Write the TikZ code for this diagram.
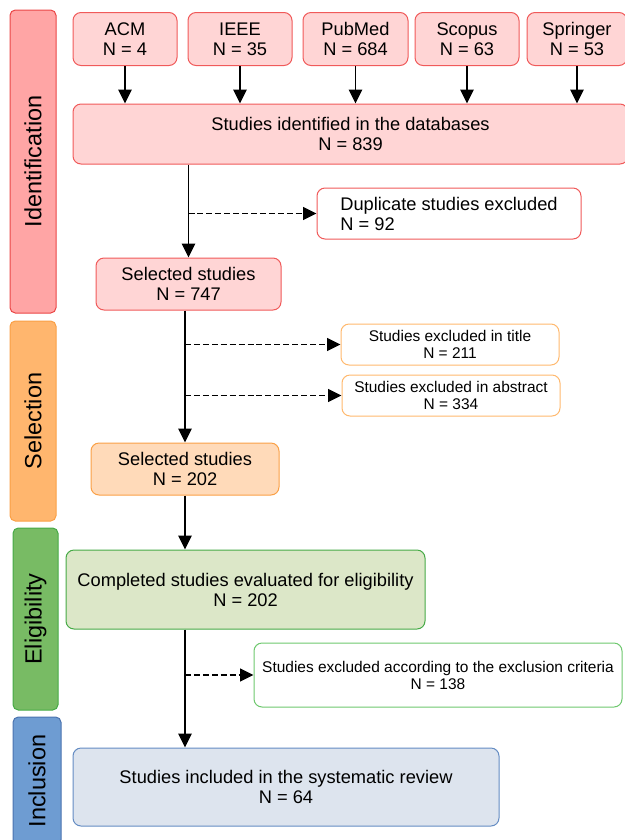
\documentclass[tikz,border=0pt]{standalone}
\usepackage{fontspec}
\setmainfont{Liberation Sans}
\usetikzlibrary{arrows.meta}
\definecolor{redfill}{RGB}{255,213,213}
\definecolor{redline}{RGB}{240,90,90}
\definecolor{redlbl}{RGB}{255,165,165}
\definecolor{redlblline}{RGB}{235,70,70}
\definecolor{orfill}{RGB}{255,218,185}
\definecolor{orline}{RGB}{250,160,70}
\definecolor{orlbl}{RGB}{255,182,110}
\definecolor{orwline}{RGB}{255,185,110}
\definecolor{grfill}{RGB}{220,231,200}
\definecolor{grline}{RGB}{70,170,70}
\definecolor{grlbl}{RGB}{120,187,100}
\definecolor{grwline}{RGB}{110,200,110}
\definecolor{blfill}{RGB}{221,228,238}
\definecolor{blline}{RGB}{100,140,195}
\definecolor{bllbl}{RGB}{110,156,210}
\definecolor{bllblline}{RGB}{75,115,175}
\tikzset{
  x=0.75pt, y=-0.75pt,
  bigfont/.style={font=\fontsize{13.7}{15}\selectfont},
  smallfont/.style={font=\fontsize{11.6}{12.75}\selectfont},
  box/.style={draw, rounded corners=6pt, inner sep=0pt, align=center, line width=0.75pt},
  stagelbl/.style={draw, rounded corners=4pt, inner sep=0pt, line width=0.75pt, font=\fontsize{17.6}{20}\selectfont},
  flow/.style={line width=1.35pt, -{Triangle[length=10.5pt,width=10pt]}},
  dflow/.style={line width=1.35pt, dash pattern=on 4.5pt off 2.2pt, -{Triangle[length=10pt,width=9.5pt]}},
  sz/.style 2 args={minimum width=#1*0.75pt, minimum height=#2*0.75pt}
}
\begin{document}
\begin{tikzpicture}
\useasboundingbox (0,0) rectangle (625,840);
% stage labels
\node[stagelbl, fill=redlbl, draw=redlblline, sz={46}{303}] (lid) at (33,161.5) {\rotatebox{90}{Identification}};
\node[stagelbl, fill=orlbl, draw=orline, sz={46}{200}] (lsel) at (33,421) {\rotatebox{90}{Selection}};
\node[stagelbl, fill=grlbl, draw=grline, sz={45}{182}] (lelig) at (35.5,619) {\rotatebox{90}{Eligibility}};
\node[stagelbl, fill=bllbl, draw=bllblline, sz={48}{128}] (lincl) at (37,781) {\rotatebox{90}{Inclusion}};
% databases
\node[box, bigfont, fill=redfill, draw=redline, sz={104}{53}] (acm) at (125,39) {ACM\\N = 4};
\node[box, bigfont, fill=redfill, draw=redline, sz={104}{53}] (ieee) at (240,39) {IEEE\\N = 35};
\node[box, bigfont, fill=redfill, draw=redline, sz={105}{53}] (pub) at (355.5,39) {PubMed\\N = 684};
\node[box, bigfont, fill=redfill, draw=redline, sz={104}{53}] (sco) at (467,39) {Scopus\\N = 63};
\node[box, bigfont, fill=redfill, draw=redline, sz={100}{53}] (spr) at (577,39) {Springer\\N = 53};
% main flow
\node[box, bigfont, fill=redfill, draw=redline, sz={555}{60}] (ident) at (350.5,134) {Studies identified in the databases\\N = 839};
\node[box, bigfont, fill=white, draw=redline, sz={264}{51}, align=left] (dup) at (449,213.5) {Duplicate studies excluded\\N = 92};
\node[box, bigfont, fill=redfill, draw=redline, sz={185}{52}] (sel1) at (188.5,284) {Selected studies\\N = 747};
\node[box, smallfont, fill=white, draw=orwline, sz={218}{41}] (title) at (450,344.5) {Studies excluded in title\\N = 211};
\node[box, smallfont, fill=white, draw=orwline, sz={218}{41}] (abs) at (451,395.5) {Studies excluded in abstract\\N = 334};
\node[box, bigfont, fill=orfill, draw=orline, sz={188}{52}] (sel2) at (185,469) {Selected studies\\N = 202};
\node[box, bigfont, fill=grfill, draw=grline, sz={359}{79}] (elig) at (245.5,589.5) {Completed studies evaluated for eligibility\\N = 202};
\node[box, smallfont, fill=white, draw=grwline, sz={368}{64}] (excl) at (438,675) {Studies excluded according to the exclusion criteria\\N = 138};
\node[box, bigfont, fill=blfill, draw=blline, sz={426}{78}] (incl) at (286,787) {Studies included in the systematic review\\N = 64};
% connectors
\foreach \d in {acm,ieee,pub,sco,spr}
  \draw[flow] (\d.south) -- (\d.south |- ident.north);
\draw[flow] (sel1.north |- ident.south) -- (sel1.north);
\draw[dflow] (sel1.north |- dup.west) -- (dup.west);
\draw[flow] (sel2.north |- sel1.south) -- (sel2.north);
\draw[dflow] (sel2.north |- title.west) -- (title.west);
\draw[dflow] (sel2.north |- abs.west) -- (abs.west);
\draw[flow] (sel2.south) -- (sel2.south |- elig.north);
\draw[flow] (sel2.south |- elig.south) -- (sel2.south |- incl.north);
\draw[dflow] (sel2.south |- excl.west) -- (excl.west);
\end{tikzpicture}
\end{document}
